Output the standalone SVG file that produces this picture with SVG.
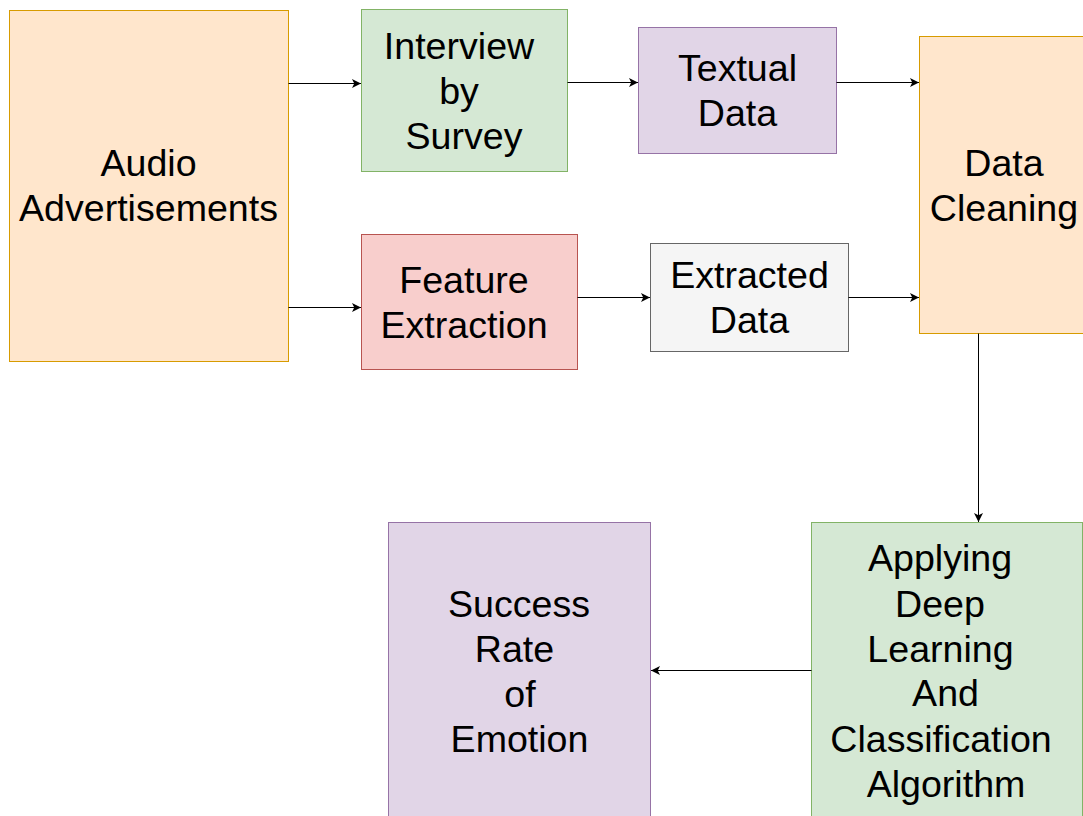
<svg xmlns="http://www.w3.org/2000/svg" width="1083" height="816" viewBox="0 0 1083 816">
  <style>
    .lbl { font-family: "Liberation Sans", Arial, sans-serif; font-size: 37.6px; fill: #000000; text-anchor: middle; }
    .orange { fill: #ffe6cc; stroke: #d79b00; stroke-width: 1; }
    .green { fill: #d5e8d4; stroke: #82b366; stroke-width: 1; }
    .purple { fill: #e1d5e7; stroke: #9673a6; stroke-width: 1; }
    .red { fill: #f8cecc; stroke: #b85450; stroke-width: 1; }
    .grey { fill: #f5f5f5; stroke: #666666; stroke-width: 1; }
    .edge { fill: none; stroke: #000000; stroke-width: 1; marker-end: url(#arrow); }
  </style>
  <defs>
    <marker id="arrow" viewBox="0 0 10 10" refX="10" refY="5" markerWidth="9" markerHeight="9" markerUnits="userSpaceOnUse" orient="auto">
      <path d="M0,0 L10,5 L0,10 L2.5,5 Z" fill="#000000"/>
    </marker>
  </defs>
  <rect width="1083" height="816" fill="#ffffff"/>

  <g id="audio-ads">
    <rect class="orange" x="9.5" y="10.5" width="279" height="351"/>
    <text class="lbl" x="148.5" y="176">Audio</text>
    <text class="lbl" x="148.5" y="221">Advertisements</text>
  </g>

  <g id="interview">
    <rect class="green" x="361.5" y="9.5" width="206" height="162"/>
    <text class="lbl" x="459" y="59">Interview</text>
    <text class="lbl" x="459" y="104">by</text>
    <text class="lbl" x="464" y="149">Survey</text>
  </g>

  <g id="textual-data">
    <rect class="purple" x="638.5" y="27.5" width="198" height="126"/>
    <text class="lbl" x="737.5" y="81">Textual</text>
    <text class="lbl" x="737.5" y="126">Data</text>
  </g>

  <g id="data-cleaning">
    <rect class="orange" x="919.5" y="36.5" width="170" height="297"/>
    <text class="lbl" x="1004" y="176">Data</text>
    <text class="lbl" x="1004" y="221">Cleaning</text>
  </g>

  <g id="feature-extraction">
    <rect class="red" x="361.5" y="234.5" width="216" height="135"/>
    <text class="lbl" x="464" y="293">Feature</text>
    <text class="lbl" x="464" y="338">Extraction</text>
  </g>

  <g id="extracted-data">
    <rect class="grey" x="650.5" y="243.5" width="198" height="108"/>
    <text class="lbl" x="749.5" y="288">Extracted</text>
    <text class="lbl" x="749.5" y="333">Data</text>
  </g>

  <g id="success-rate">
    <rect class="purple" x="388.5" y="522.5" width="262" height="300"/>
    <text class="lbl" x="519" y="617">Success</text>
    <text class="lbl" x="514.5" y="662">Rate</text>
    <text class="lbl" x="520" y="707">of</text>
    <text class="lbl" x="519.5" y="752">Emotion</text>
  </g>

  <g id="deep-learning">
    <rect class="green" x="811.5" y="522.5" width="271" height="300"/>
    <text class="lbl" x="940" y="571">Applying</text>
    <text class="lbl" x="940" y="617">Deep</text>
    <text class="lbl" x="940.5" y="662">Learning</text>
    <text class="lbl" x="945.5" y="706">And</text>
    <text class="lbl" x="941" y="752">Classification</text>
    <text class="lbl" x="946" y="797">Algorithm</text>
  </g>

  <g id="connectors">
    <path class="edge" d="M288.5,83.5 H361"/>
    <path class="edge" d="M288.5,307.5 H361"/>
    <path class="edge" d="M567.5,82.5 H638"/>
    <path class="edge" d="M836.5,82.5 H919"/>
    <path class="edge" d="M577.5,297.5 H650"/>
    <path class="edge" d="M848.5,297.5 H919"/>
    <path class="edge" d="M978.5,333.5 V522"/>
    <path class="edge" d="M811.5,670.5 H651"/>
  </g>
</svg>
